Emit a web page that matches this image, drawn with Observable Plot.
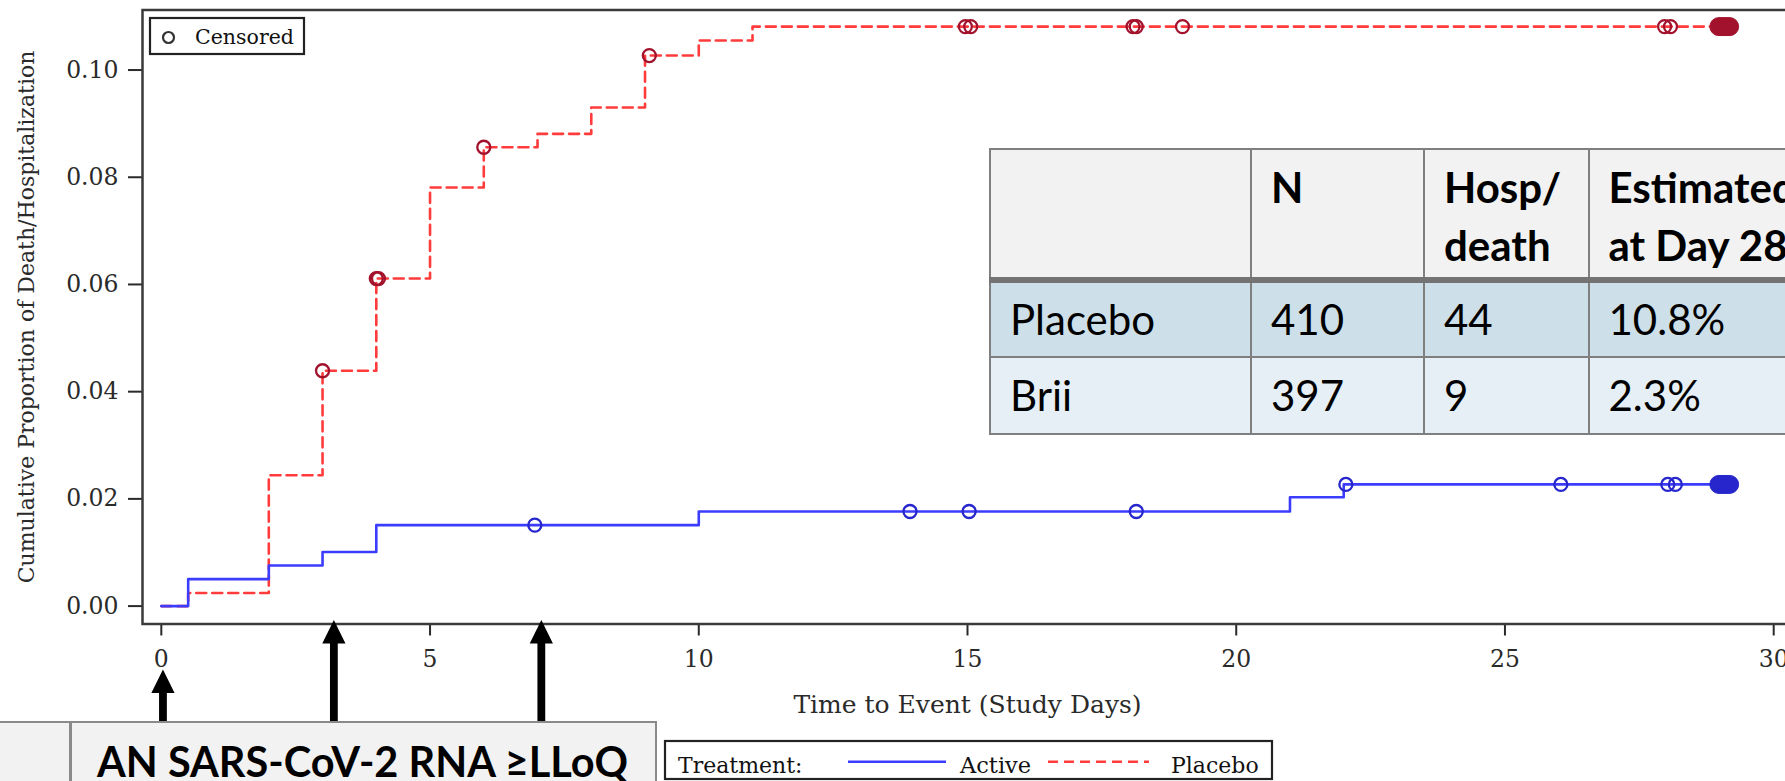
<!DOCTYPE html>
<html>
<head>
<meta charset="utf-8">
<script src="https://cdn.jsdelivr.net/npm/d3@7"></script>
<script src="https://cdn.jsdelivr.net/npm/@observablehq/plot@0.6"></script>
<style>
  html, body { margin: 0; padding: 0; background: #fff; overflow: hidden; width: 1785px; height: 781px; }
  #wrap { position: relative; width: 1785px; height: 781px; overflow: hidden; }
  #wrap > svg { position: absolute; left: 0; top: 0; max-width: none !important; }
  table.kt { position: absolute; left: 989px; top: 148px; width: 860px; border-collapse: collapse; table-layout: fixed;
    font-family: Lato, "Open Sans", sans-serif; font-size: 42px; color: #000; }
  table.kt td, table.kt th { border: 2.5px solid #7f7f7f; padding: 0 0 0 19px; text-align: left; white-space: nowrap; overflow: hidden; }
  table.kt tr.h th { background: #f2f2f2; height: 130.5px; vertical-align: top; padding-top: 7.5px; line-height: 58px; font-weight: 700; border-bottom: 6px solid #737373; box-sizing: border-box; }
  table.kt tr.r0 td { background: #cddfe8; height: 73.4px; vertical-align: middle; }
  table.kt tr.r1 td { background: #e6eff5; height: 74.8px; vertical-align: middle; }
  #rna { position: absolute; left: -3px; top: 721px; width: 660px; height: 90px; background: #f2f2f2; border: 2.5px solid #8a8a8a; box-sizing: border-box; }
  #rna .div { position: absolute; left: 70px; top: 0; width: 2.5px; height: 100%; background: #8a8a8a; }
  #rna .txt { position: absolute; left: 98px; top: 13px; font-family: Lato, "Open Sans", sans-serif; font-weight: 700; font-size: 41.5px; color: #000; white-space: nowrap; }
</style>
</head>
<body>
<div id="wrap"></div>
<script>
// ---------- data ----------
const xTicks = [0, 5, 10, 15, 20, 25, 30];
const yTicks = [0, 0.02, 0.04, 0.06, 0.08, 0.10];
const xTitle = "Time to Event (Study Days)";
const yTitle = "Cumulative Proportion of Death/Hospitalization";

// Kaplan-Meier step points (day, cumulative proportion)
const placeboDays = [0, 0.5, 2, 3, 4, 5, 6, 7, 8, 9, 10, 11, 29.2];
const placeboRisk = [0, 0.00244, 0.0244, 0.0439, 0.0611, 0.0781, 0.0856, 0.0881, 0.0930, 0.1027, 0.1055, 0.1081, 0.1081];
const activeDays = [0, 0.5, 2, 3, 4, 10, 21, 22, 29.2];
const activeRisk = [0, 0.00504, 0.00756, 0.0101, 0.0151, 0.01765, 0.0203, 0.0227, 0.0227];

// censoring times
const placeboCensDays = [3.0, 4.0, 4.04, 6.0, 9.08, 14.96, 15.06, 18.08, 18.14, 19.0, 27.97, 28.08];
const activeCensDays = [6.95, 13.93, 15.03, 18.14, 22.04, 26.04, 28.03, 28.17];
const endCensDays = [28.98, 29.03, 29.08, 29.13, 29.18];

// legend / table texts
const seriesNames = ["Active", "Placebo"];
const tableHeader = ["", "N", "Hosp/\ndeath", "Estimated\nat Day 28"];
const tableRows = [
  ["Placebo", "410", "44", "10.8%"],
  ["Brii", "397", "9", "2.3%"]
];
const rnaLabel = "AN SARS-CoV-2 RNA \u2265LLoQ";
const arrowDays = [0.04, 3.22, 7.08];

// ---------- build ----------
const RED = "#ff3b3b", REDC = "#a3122c", BLUE = "#3c3cff", BLUEC = "#2626cc";
const toRows = (days, risk) => days.map((d, i) => ({day: d, risk: risk[i]}));
const stepAt = (days, risk, t) => { let v = risk[0]; days.forEach((d, i) => { if (d <= t + 1e-9) v = risk[i]; }); return v; };
const placebo = toRows(placeboDays, placeboRisk);
const active = toRows(activeDays, activeRisk);
const placeboCens = placeboCensDays.map(t => ({day: t, risk: stepAt(placeboDays, placeboRisk, t)}));
const activeCens = activeCensDays.map(t => ({day: t, risk: stepAt(activeDays, activeRisk, t)}));
const placeboEnd = endCensDays.map(t => ({day: t, risk: stepAt(placeboDays, placeboRisk, t)}));
const activeEnd = endCensDays.map(t => ({day: t, risk: stepAt(activeDays, activeRisk, t)}));

const FONT = "DejaVu Serif, Liberation Serif, serif";
const chart = Plot.plot({
  width: 1802, height: 781,
  marginLeft: 142, marginRight: 10, marginTop: 9.5, marginBottom: 157.5,
  style: {fontFamily: FONT, fontSize: "23.5px", color: "#2a2a2a", background: "transparent", overflow: "visible", maxWidth: "none"},
  x: {domain: [-0.35, 30.35]},
  y: {domain: [-0.00334, 0.1112]},
  marks: [
    Plot.axisX({ticks: xTicks, tickFormat: d => String(d), tickSize: 12, tickPadding: 14, strokeWidth: 2,
      fontSize: 23.5, label: null}),
    Plot.axisX({ticks: [], label: xTitle, labelAnchor: "center", labelArrow: "none", labelOffset: 89, fontSize: 25}),
    Plot.axisY({ticks: yTicks, tickFormat: d => d.toFixed(2), tickSize: 14, tickPadding: 10, strokeWidth: 2,
      fontSize: 23.5, label: null}),
    Plot.axisY({ticks: [], label: yTitle, labelAnchor: "center", labelArrow: "none", labelOffset: 124, fontSize: 22}),
    Plot.line(placebo, {x: "day", y: "risk", curve: "step-after", stroke: RED, strokeWidth: 2.6, strokeDasharray: "10,6"}),
    Plot.line(active, {x: "day", y: "risk", curve: "step-after", stroke: BLUE, strokeWidth: 2.6}),
    Plot.dot(placeboCens, {x: "day", y: "risk", r: 6.5, stroke: REDC, strokeWidth: 2.3}),
    Plot.dot(activeCens, {x: "day", y: "risk", r: 6.5, stroke: BLUEC, strokeWidth: 2.3}),
    Plot.dot(placeboEnd, {x: "day", y: "risk", r: 9, fill: REDC, stroke: REDC, strokeWidth: 1}),
    Plot.dot(activeEnd, {x: "day", y: "risk", r: 9, fill: BLUEC, stroke: BLUEC, strokeWidth: 1}),
    Plot.frame({stroke: "#3a3a3a", strokeWidth: 2.5})
  ]
});
chart.style.maxWidth = "none";
chart.style.width = "1802px";
chart.style.height = "781px";
const wrap = document.getElementById("wrap");
wrap.appendChild(chart);
const xs = chart.scale("x");

// overlay: legends + arrows
const ov = d3.select(wrap).append("svg").attr("width", 1785).attr("height", 781)
  .attr("font-family", FONT);
// Censored legend
const cl = ov.append("g");
cl.append("rect").attr("x", 150).attr("y", 18).attr("width", 154).attr("height", 36)
  .attr("fill", "#fff").attr("stroke", "#222").attr("stroke-width", 2.2);
cl.append("circle").attr("cx", 168.5).attr("cy", 37.5).attr("r", 5.5)
  .attr("fill", "none").attr("stroke", "#333").attr("stroke-width", 2.2);
cl.append("text").attr("x", 195).attr("y", 43.5).attr("font-size", 20.5).attr("fill", "#111").text("Censored");

// Treatment legend
const tl = ov.append("g");
tl.append("rect").attr("x", 665).attr("y", 741).attr("width", 607).attr("height", 38)
  .attr("fill", "#fff").attr("stroke", "#222").attr("stroke-width", 2.2);
tl.append("text").attr("x", 678).attr("y", 773).attr("font-size", 22).attr("fill", "#111").text("Treatment:");
tl.append("line").attr("x1", 848).attr("x2", 946).attr("y1", 761.7).attr("y2", 761.7)
  .attr("stroke", BLUE).attr("stroke-width", 2.6);
tl.append("text").attr("x", 960).attr("y", 773).attr("font-size", 22.5).attr("fill", "#111").text(seriesNames[0]);
tl.append("line").attr("x1", 1048).attr("x2", 1149).attr("y1", 761.7).attr("y2", 761.7)
  .attr("stroke", RED).attr("stroke-width", 2.6).attr("stroke-dasharray", "10,6");
tl.append("text").attr("x", 1171).attr("y", 773).attr("font-size", 22).attr("fill", "#111").text(seriesNames[1]);

// arrows
const tips = [669.5, 620, 620];
arrowDays.forEach((d, i) => {
  const cx = xs.apply(d), tip = tips[i], base = tip + 23.5, bottom = 722, hw = 11.6, sw = 3.9;
  ov.append("path")
    .attr("d", `M${cx},${tip}L${cx + hw},${base}L${cx + sw},${base}L${cx + sw},${bottom}L${cx - sw},${bottom}L${cx - sw},${base}L${cx - hw},${base}Z`)
    .attr("fill", "#000");
});

// data table
const tbl = d3.select(wrap).append("table").attr("class", "kt");
const cg = tbl.append("colgroup");
[261, 173, 164.5, 260].forEach(w => cg.append("col").style("width", w + "px"));
const hr = tbl.append("tr").attr("class", "h");
tableHeader.forEach(h => hr.append("th").html(h.split("\n").join("<br>")));
tableRows.forEach((r, i) => {
  const tr = tbl.append("tr").attr("class", "r" + i);
  r.forEach(c => tr.append("td").text(c));
});

// bottom-left RNA box
const rna = d3.select(wrap).append("div").attr("id", "rna");
rna.append("div").attr("class", "div");
rna.append("div").attr("class", "txt").text(rnaLabel);
</script>
</body>
</html>
